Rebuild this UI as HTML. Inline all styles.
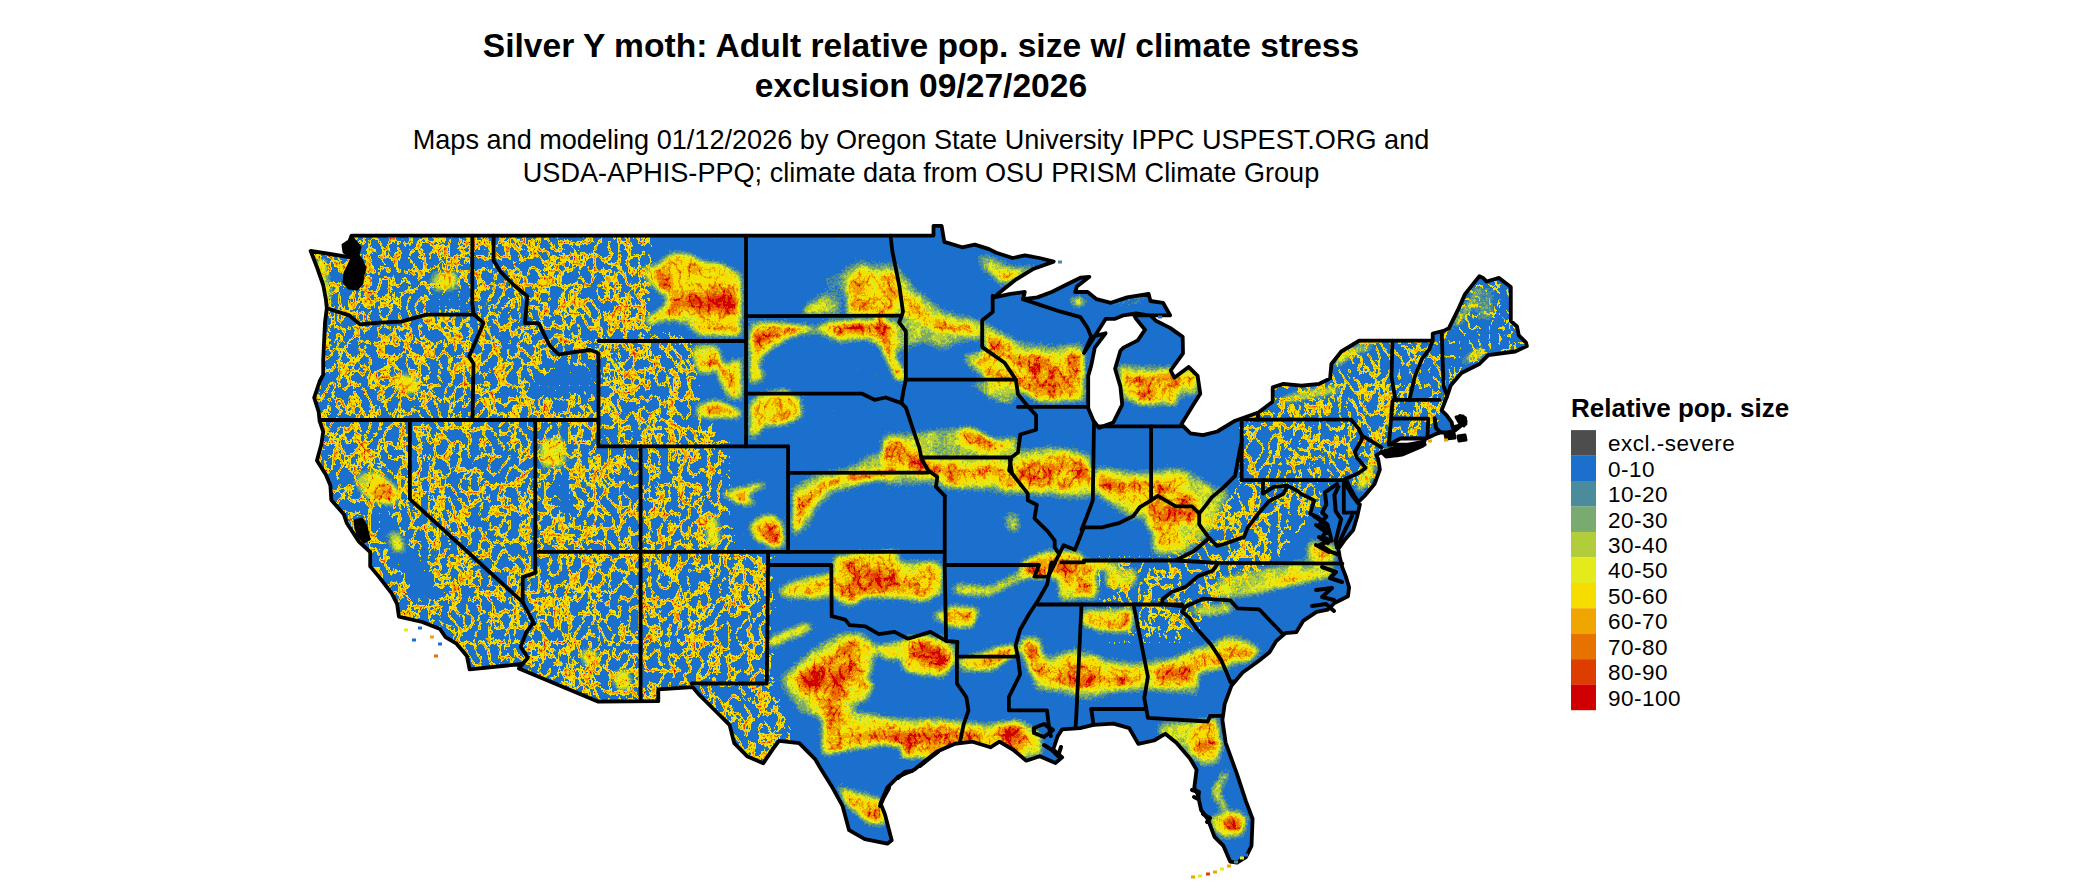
<!DOCTYPE html>
<html><head><meta charset="utf-8"><title>Silver Y moth</title><style>
html,body{margin:0;padding:0;background:#fff;width:2100px;height:892px;overflow:hidden;position:relative}
.t{position:absolute;font-family:"Liberation Sans",sans-serif;white-space:nowrap;color:#000;line-height:1}
.tt{font-size:33.6px;font-weight:bold;left:0;width:1842px;text-align:center}
.st{font-size:27.1px;left:0;width:1842px;text-align:center}
.lab{position:absolute;left:1608px;font-family:"Liberation Sans",sans-serif;font-size:22.5px;letter-spacing:0.5px;line-height:25px;white-space:nowrap}
svg{position:absolute;left:0;top:0}
</style></head><body>
<svg width="2100" height="892" viewBox="0 0 2100 892">
<defs><filter id="q" x="0" y="0" width="2100" height="892" filterUnits="userSpaceOnUse" color-interpolation-filters="sRGB">
 <feMorphology in="SourceGraphic" operator="erode" radius="3" result="er"/>
 <feGaussianBlur in="er" stdDeviation="3" result="f"/>
 <feColorMatrix in="f" type="matrix" values="1 0 0 0 0  1 0 0 0 0  1 0 0 0 0  0 0 0 0 1" result="fr"/>
 <feColorMatrix in="f" type="matrix" values="0 -1 0 0 1  0 -1 0 0 1  0 -1 0 0 1  0 0 0 0 1" result="amp"/>
 <feTurbulence type="turbulence" baseFrequency="0.1 0.07" numOctaves="3" seed="7" result="t"/>
 <feColorMatrix in="t" type="matrix" values="-1 0 0 0 1  -1 0 0 0 1  -1 0 0 0 1  0 0 0 0 1" result="rid"/>
 <feComponentTransfer in="rid" result="ridgL"><feFuncR type="linear" slope="2.9" intercept="-2.08"/><feFuncG type="linear" slope="2.9" intercept="-2.08"/><feFuncB type="linear" slope="2.9" intercept="-2.08"/></feComponentTransfer>
 <feTurbulence type="fractalNoise" baseFrequency="0.045" numOctaves="2" seed="23" result="t3"/>
 <feColorMatrix in="t3" type="matrix" values="1 0 0 0 0  1 0 0 0 0  1 0 0 0 0  0 0 0 0 1" result="n3"/>
 <feComposite in="fr" in2="n3" operator="arithmetic" k1="0.9" k2="0.5" k3="0" k4="0" result="frm"/>
 <feComposite in="frm" in2="ridgL" operator="arithmetic" k1="0.55" k2="1" k3="0" k4="0" result="fn"/>
 <feComposite in="rid" in2="amp" operator="arithmetic" k1="0" k2="1" k3="0.27" k4="-0.27" result="sh"/>
 <feComponentTransfer in="sh" result="ridgT"><feFuncR type="table" tableValues="0.000 0.000 0.000 0.000 0.000 0.000 0.000 0.000 0.000 0.000 0.000 0.000 0.000 0.000 0.000 0.000 0.000 0.000 0.000 0.000 0.000 0.000 0.000 0.000 0.000 0.000 0.000 0.000 0.000 0.000 0.000 0.000 0.000 0.000 0.000 0.000 0.000 0.000 0.450 0.466 0.481 0.497 0.512 0.537 0.571 0.606 0.640 0.702 0.764 0.840 0.920"/><feFuncG type="table" tableValues="0.000 0.000 0.000 0.000 0.000 0.000 0.000 0.000 0.000 0.000 0.000 0.000 0.000 0.000 0.000 0.000 0.000 0.000 0.000 0.000 0.000 0.000 0.000 0.000 0.000 0.000 0.000 0.000 0.000 0.000 0.000 0.000 0.000 0.000 0.000 0.000 0.000 0.000 0.450 0.466 0.481 0.497 0.512 0.537 0.571 0.606 0.640 0.702 0.764 0.840 0.920"/><feFuncB type="table" tableValues="0.000 0.000 0.000 0.000 0.000 0.000 0.000 0.000 0.000 0.000 0.000 0.000 0.000 0.000 0.000 0.000 0.000 0.000 0.000 0.000 0.000 0.000 0.000 0.000 0.000 0.000 0.000 0.000 0.000 0.000 0.000 0.000 0.000 0.000 0.000 0.000 0.000 0.000 0.450 0.466 0.481 0.497 0.512 0.537 0.571 0.606 0.640 0.702 0.764 0.840 0.920"/></feComponentTransfer>
 <feTurbulence type="fractalNoise" baseFrequency="0.42" numOctaves="2" seed="11" result="t2"/>
 <feColorMatrix in="t2" type="matrix" values="1 0 0 0 0  1 0 0 0 0  1 0 0 0 0  0 0 0 0 1" result="t2g"/>
 <feComposite in="fn" in2="t2g" operator="arithmetic" k1="0" k2="1" k3="0.24" k4="-0.12" result="fnj"/>
 <feBlend in="fnj" in2="ridgT" mode="lighten" result="v"/>
 <feComponentTransfer in="v">
  <feFuncR type="discrete" tableValues="0.106 0.290 0.475 0.698 0.890 0.965 0.937 0.910 0.871 0.816 0.816"/>
  <feFuncG type="discrete" tableValues="0.439 0.549 0.671 0.804 0.922 0.867 0.651 0.447 0.239 0 0"/>
  <feFuncB type="discrete" tableValues="0.804 0.608 0.439 0.235 0.106 0 0 0 0 0 0"/>
 </feComponentTransfer>
</filter><clipPath id="land"><path d="M310.6,250.9 L330.0,254.0 L349.2,257.2 L351.7,235.6 L933.5,235.6 L933.5,225.8 L941.6,225.8 L944.3,241.9 L962.2,247.3 L974.8,244.6 L989.1,249.1 L996.3,252.7 L1012.5,258.0 L1025.0,255.4 L1039.4,258.0 L1053.7,261.6 L1033.8,268.7 L1015.9,279.5 L998.0,293.8 L994.3,297.4 L1010.5,293.8 L1024.8,292.0 L1023.0,299.2 L1037.4,297.4 L1051.7,292.0 L1069.7,283.0 L1080.4,277.7 L1089.4,276.8 L1076.9,286.6 L1075.1,292.0 L1087.6,292.0 L1096.6,299.2 L1110.9,302.8 L1127.1,297.4 L1148.6,293.8 L1150.4,301.0 L1163.0,302.8 L1170.1,315.3 L1159.4,315.3 L1148.6,315.3 L1136.1,313.5 L1123.5,315.3 L1114.5,318.9 L1105.6,318.9 L1096.6,333.3 L1084.0,353.0 L1091.2,336.9 L1105.6,333.3 L1094.8,347.6 L1091.2,365.6 L1088.2,375.9 L1088.2,408.2 L1093.5,420.7 L1098.9,427.9 L1113.3,422.5 L1122.2,404.6 L1120.4,386.6 L1115.1,368.7 L1120.4,350.8 L1123.5,347.6 L1137.8,340.4 L1145.0,329.7 L1136.1,318.9 L1134.3,315.3 L1150.4,315.3 L1155.8,320.7 L1170.1,327.9 L1182.7,336.9 L1183.0,353.3 L1170.7,370.5 L1174.3,377.7 L1188.6,366.9 L1197.6,375.9 L1200.3,393.8 L1192.2,406.4 L1181.4,424.3 L1190.4,433.3 L1203.0,435.1 L1217.3,431.5 L1235.2,420.7 L1258.4,412.5 L1272.7,401.7 L1272.7,387.4 L1283.5,383.8 L1301.4,385.6 L1319.4,383.8 L1330.1,378.4 L1331.4,364.0 L1341.3,351.5 L1359.2,340.7 L1432.7,340.7 L1432.7,333.5 L1443.5,330.9 L1448.9,328.2 L1457.8,310.2 L1465.0,294.1 L1479.4,276.1 L1483.0,277.9 L1486.5,281.5 L1499.1,277.9 L1510.8,286.9 L1510.8,321.0 L1517.0,326.4 L1518.8,335.3 L1526.0,342.5 L1526.9,346.1 L1515.2,351.5 L1488.3,355.1 L1479.4,364.0 L1461.4,373.0 L1450.7,385.6 L1447.1,396.3 L1441.6,410.3 L1446.7,415.3 L1451.7,422.4 L1452.7,427.4 L1460.8,425.4 L1465.5,424.0 L1465.0,418.0 L1460.0,416.0 L1462.5,419.5 L1462.5,424.5 L1455.0,430.5 L1446.7,432.5 L1440.6,432.5 L1434.6,434.5 L1426.5,438.5 L1400.3,438.5 L1388.9,444.6 L1424.8,444.6 L1397.8,455.3 L1383.5,453.5 L1381.7,451.7 L1376.3,455.3 L1378.1,458.9 L1379.9,469.7 L1374.5,484.0 L1365.6,494.8 L1358.4,502.0 L1354.8,496.6 L1347.6,487.6 L1345.8,478.7 L1350.0,488.0 L1356.6,500.0 L1359.9,504.4 L1357.2,516.5 L1353.2,530.0 L1345.1,539.4 L1338.4,548.8 L1339.7,556.9 L1342.4,567.6 L1345.7,576.1 L1349.1,587.3 L1348.0,596.2 L1334.5,603.0 L1327.8,609.7 L1316.6,611.9 L1303.1,620.9 L1296.4,632.1 L1285.2,633.2 L1276.2,641.1 L1269.5,652.3 L1258.3,661.3 L1242.6,672.5 L1231.4,685.9 L1224.7,703.9 L1222.4,720.0 L1225.7,742.8 L1237.0,774.2 L1245.9,801.1 L1252.6,819.0 L1251.5,845.9 L1245.9,857.1 L1237.0,862.7 L1230.2,861.6 L1223.5,845.9 L1214.5,836.9 L1207.8,819.0 L1201.1,810.0 L1197.7,794.3 L1194.3,787.6 L1196.6,769.7 L1189.9,758.5 L1176.4,742.8 L1165.2,733.8 L1154.0,740.5 L1138.3,743.9 L1129.3,728.2 L1113.6,723.7 L1093.5,724.8 L1080.0,728.2 L1062.2,729.3 L1057.7,736.1 L1053.2,749.5 L1062.2,757.4 L1055.4,763.0 L1039.7,756.2 L1026.3,760.7 L1012.8,749.5 L999.4,741.7 L990.4,747.3 L972.5,741.7 L954.5,743.9 L936.6,751.7 L914.2,769.7 L898.5,776.4 L887.3,787.6 L880.5,803.3 L885.0,814.5 L891.7,840.3 L887.3,843.7 L864.8,839.2 L849.1,830.2 L842.4,805.6 L831.2,785.4 L820.0,767.4 L814.9,758.8 L799.2,743.1 L779.0,740.9 L772.3,749.9 L763.3,763.3 L747.6,756.6 L734.2,743.1 L729.7,725.2 L714.0,709.5 L698.3,693.8 L692.7,687.1 L658.3,689.3 L658.3,701.2 L597.8,701.6 L518.9,668.4 L522.5,664.0 L469.6,669.3 L466.9,655.9 L456.1,643.3 L445.4,637.0 L440.0,629.0 L422.2,622.0 L398.9,616.6 L397.1,604.0 L391.7,593.3 L379.2,577.1 L370.2,566.4 L370.2,552.0 L358.6,541.3 L346.9,523.3 L343.8,514.3 L331.3,499.9 L330.4,485.6 L325.9,474.8 L316.9,460.4 L321.4,444.3 L323.2,431.7 L319.6,421.0 L318.7,412.0 L314.2,397.7 L319.6,381.5 L323.2,374.6 L323.2,360.0 L325.0,322.6 L326.8,308.3 L325.9,299.3 L323.2,285.0 L316.9,267.0Z"/></clipPath></defs>
<path d="M310.6,250.9 L330.0,254.0 L349.2,257.2 L351.7,235.6 L933.5,235.6 L933.5,225.8 L941.6,225.8 L944.3,241.9 L962.2,247.3 L974.8,244.6 L989.1,249.1 L996.3,252.7 L1012.5,258.0 L1025.0,255.4 L1039.4,258.0 L1053.7,261.6 L1033.8,268.7 L1015.9,279.5 L998.0,293.8 L994.3,297.4 L1010.5,293.8 L1024.8,292.0 L1023.0,299.2 L1037.4,297.4 L1051.7,292.0 L1069.7,283.0 L1080.4,277.7 L1089.4,276.8 L1076.9,286.6 L1075.1,292.0 L1087.6,292.0 L1096.6,299.2 L1110.9,302.8 L1127.1,297.4 L1148.6,293.8 L1150.4,301.0 L1163.0,302.8 L1170.1,315.3 L1159.4,315.3 L1148.6,315.3 L1136.1,313.5 L1123.5,315.3 L1114.5,318.9 L1105.6,318.9 L1096.6,333.3 L1084.0,353.0 L1091.2,336.9 L1105.6,333.3 L1094.8,347.6 L1091.2,365.6 L1088.2,375.9 L1088.2,408.2 L1093.5,420.7 L1098.9,427.9 L1113.3,422.5 L1122.2,404.6 L1120.4,386.6 L1115.1,368.7 L1120.4,350.8 L1123.5,347.6 L1137.8,340.4 L1145.0,329.7 L1136.1,318.9 L1134.3,315.3 L1150.4,315.3 L1155.8,320.7 L1170.1,327.9 L1182.7,336.9 L1183.0,353.3 L1170.7,370.5 L1174.3,377.7 L1188.6,366.9 L1197.6,375.9 L1200.3,393.8 L1192.2,406.4 L1181.4,424.3 L1190.4,433.3 L1203.0,435.1 L1217.3,431.5 L1235.2,420.7 L1258.4,412.5 L1272.7,401.7 L1272.7,387.4 L1283.5,383.8 L1301.4,385.6 L1319.4,383.8 L1330.1,378.4 L1331.4,364.0 L1341.3,351.5 L1359.2,340.7 L1432.7,340.7 L1432.7,333.5 L1443.5,330.9 L1448.9,328.2 L1457.8,310.2 L1465.0,294.1 L1479.4,276.1 L1483.0,277.9 L1486.5,281.5 L1499.1,277.9 L1510.8,286.9 L1510.8,321.0 L1517.0,326.4 L1518.8,335.3 L1526.0,342.5 L1526.9,346.1 L1515.2,351.5 L1488.3,355.1 L1479.4,364.0 L1461.4,373.0 L1450.7,385.6 L1447.1,396.3 L1441.6,410.3 L1446.7,415.3 L1451.7,422.4 L1452.7,427.4 L1460.8,425.4 L1465.5,424.0 L1465.0,418.0 L1460.0,416.0 L1462.5,419.5 L1462.5,424.5 L1455.0,430.5 L1446.7,432.5 L1440.6,432.5 L1434.6,434.5 L1426.5,438.5 L1400.3,438.5 L1388.9,444.6 L1424.8,444.6 L1397.8,455.3 L1383.5,453.5 L1381.7,451.7 L1376.3,455.3 L1378.1,458.9 L1379.9,469.7 L1374.5,484.0 L1365.6,494.8 L1358.4,502.0 L1354.8,496.6 L1347.6,487.6 L1345.8,478.7 L1350.0,488.0 L1356.6,500.0 L1359.9,504.4 L1357.2,516.5 L1353.2,530.0 L1345.1,539.4 L1338.4,548.8 L1339.7,556.9 L1342.4,567.6 L1345.7,576.1 L1349.1,587.3 L1348.0,596.2 L1334.5,603.0 L1327.8,609.7 L1316.6,611.9 L1303.1,620.9 L1296.4,632.1 L1285.2,633.2 L1276.2,641.1 L1269.5,652.3 L1258.3,661.3 L1242.6,672.5 L1231.4,685.9 L1224.7,703.9 L1222.4,720.0 L1225.7,742.8 L1237.0,774.2 L1245.9,801.1 L1252.6,819.0 L1251.5,845.9 L1245.9,857.1 L1237.0,862.7 L1230.2,861.6 L1223.5,845.9 L1214.5,836.9 L1207.8,819.0 L1201.1,810.0 L1197.7,794.3 L1194.3,787.6 L1196.6,769.7 L1189.9,758.5 L1176.4,742.8 L1165.2,733.8 L1154.0,740.5 L1138.3,743.9 L1129.3,728.2 L1113.6,723.7 L1093.5,724.8 L1080.0,728.2 L1062.2,729.3 L1057.7,736.1 L1053.2,749.5 L1062.2,757.4 L1055.4,763.0 L1039.7,756.2 L1026.3,760.7 L1012.8,749.5 L999.4,741.7 L990.4,747.3 L972.5,741.7 L954.5,743.9 L936.6,751.7 L914.2,769.7 L898.5,776.4 L887.3,787.6 L880.5,803.3 L885.0,814.5 L891.7,840.3 L887.3,843.7 L864.8,839.2 L849.1,830.2 L842.4,805.6 L831.2,785.4 L820.0,767.4 L814.9,758.8 L799.2,743.1 L779.0,740.9 L772.3,749.9 L763.3,763.3 L747.6,756.6 L734.2,743.1 L729.7,725.2 L714.0,709.5 L698.3,693.8 L692.7,687.1 L658.3,689.3 L658.3,701.2 L597.8,701.6 L518.9,668.4 L522.5,664.0 L469.6,669.3 L466.9,655.9 L456.1,643.3 L445.4,637.0 L440.0,629.0 L422.2,622.0 L398.9,616.6 L397.1,604.0 L391.7,593.3 L379.2,577.1 L370.2,566.4 L370.2,552.0 L358.6,541.3 L346.9,523.3 L343.8,514.3 L331.3,499.9 L330.4,485.6 L325.9,474.8 L316.9,460.4 L321.4,444.3 L323.2,431.7 L319.6,421.0 L318.7,412.0 L314.2,397.7 L319.6,381.5 L323.2,374.6 L323.2,360.0 L325.0,322.6 L326.8,308.3 L325.9,299.3 L323.2,285.0 L316.9,267.0Z" fill="#1b70cd"/>
<g clip-path="url(#land)">
<g filter="url(#q)"><rect x="0" y="0" width="2100" height="892" fill="rgb(0,255,0)"/>
<polygon points="300.0,225.0 648.0,225.0 648.0,330.0 690.0,345.0 700.0,420.0 725.0,446.0 728.0,551.0 770.0,560.0 770.0,690.0 790.0,740.0 760.0,780.0 700.0,730.0 650.0,705.0 480.0,680.0 300.0,600.0" fill="rgb(0,0,0)" style="mix-blend-mode:darken"/>
<polygon points="1243.0,420.0 1272.0,400.0 1275.0,385.0 1330.0,378.0 1345.0,345.0 1360.0,340.0 1432.0,338.0 1445.0,385.0 1440.0,415.0 1385.0,450.0 1375.0,490.0 1345.0,480.0 1243.0,480.0" fill="rgb(0,25,0)" style="mix-blend-mode:darken"/>
<polygon points="1432.0,338.0 1460.0,300.0 1480.0,275.0 1510.0,285.0 1525.0,345.0 1450.0,385.0" fill="rgb(0,102,0)" style="mix-blend-mode:darken"/>
<polygon points="1140.0,620.0 1160.0,570.0 1200.0,530.0 1240.0,490.0 1300.0,478.0 1320.0,500.0 1270.0,560.0 1220.0,600.0 1180.0,640.0" fill="rgb(0,31,0)" style="mix-blend-mode:darken"/>
<polygon points="1110.0,600.0 1180.0,600.0 1180.0,640.0 1110.0,640.0" fill="rgb(0,102,0)" style="mix-blend-mode:darken"/>
<polygon points="1100.0,562.0 1220.0,560.0 1215.0,600.0 1100.0,602.0" fill="rgb(0,38,0)" style="mix-blend-mode:darken"/>
<polygon points="372.0,505.0 390.0,505.0 410.0,540.0 435.0,570.0 440.0,600.0 420.0,605.0 395.0,570.0 375.0,535.0" fill="rgb(0,255,0)" style="mix-blend-mode:lighten"/>
<polygon points="520.0,380.0 560.0,360.0 600.0,365.0 600.0,395.0 560.0,400.0 525.0,400.0" fill="rgb(0,204,0)" style="mix-blend-mode:lighten"/>
<polygon points="553.0,472.0 568.0,468.0 576.0,490.0 574.0,520.0 556.0,520.0 550.0,495.0" fill="rgb(0,217,0)" style="mix-blend-mode:lighten"/>
<polygon points="425.0,287.0 470.0,287.0 470.0,314.0 425.0,314.0" fill="rgb(0,204,0)" style="mix-blend-mode:lighten"/>
<polygon points="815.0,275.0 850.0,268.0 895.0,262.0 905.0,300.0 830.0,300.0" fill="rgb(31,0,0)" style="mix-blend-mode:lighten"/>
<polygon points="1471.3,284.7 1496.0,287.1 1496.0,321.7 1473.8,321.7" fill="rgb(51,0,0)" style="mix-blend-mode:lighten"/>
<polygon points="1174.7,440.4 1181.4,440.4 1181.4,449.3 1174.7,449.3" fill="rgb(51,0,0)" style="mix-blend-mode:lighten"/>
<polygon points="842.2,264.8 855.6,258.1 900.0,260.4 900.0,287.3 846.6,294.0 833.2,287.3" fill="rgb(56,0,0)" style="mix-blend-mode:lighten"/>
<polygon points="900.0,264.8 917.9,287.3 944.8,307.4 967.3,314.2 985.2,318.7 985.2,341.1 958.3,345.6 944.8,354.5 922.4,345.6 900.0,354.5" fill="rgb(76,0,0)" style="mix-blend-mode:lighten"/>
<polygon points="983.0,318.7 1000.9,327.6 1025.6,341.1 1057.0,343.3 1086.1,341.1 1086.1,399.4 1057.0,399.4 1034.5,390.4 1016.6,399.4 994.2,390.4 962.8,365.7 960.5,352.3 980.7,347.8" fill="rgb(76,0,0)" style="mix-blend-mode:lighten"/>
<polygon points="974.0,251.4 989.7,253.6 1016.6,264.8 1043.5,260.4 1034.5,273.8 1007.6,287.3 994.2,285.0 978.5,269.3" fill="rgb(76,0,0)" style="mix-blend-mode:lighten"/>
<polygon points="1115.2,359.0 1135.4,363.5 1157.8,363.5 1200.0,363.5 1200.0,399.4 1169.1,397.1 1146.6,397.1 1117.5,390.4" fill="rgb(76,0,0)" style="mix-blend-mode:lighten"/>
<polygon points="962.8,381.4 994.2,381.4 1016.6,399.4 1012.1,410.6 985.2,399.4" fill="rgb(76,0,0)" style="mix-blend-mode:lighten"/>
<polygon points="790.6,485.2 813.0,471.7 846.6,465.0 869.1,451.6 900.0,444.8 900.0,480.7 869.1,485.2 837.7,494.2 822.0,507.6 810.8,530.0 797.3,539.0 790.6,539.0" fill="rgb(76,0,0)" style="mix-blend-mode:lighten"/>
<polygon points="880.0,431.6 906.9,431.6 958.5,424.8 987.6,433.8 1023.5,447.3 1054.9,442.8 1093.0,451.7 1093.0,501.1 1059.4,501.1 1025.7,496.6 1005.6,496.6 974.2,492.1 947.3,492.1 924.8,485.4 897.9,487.6 880.0,485.4" fill="rgb(76,0,0)" style="mix-blend-mode:lighten"/>
<polygon points="1093.0,465.2 1115.4,465.2 1137.8,469.7 1180.0,465.2 1180.0,525.7 1149.1,523.5 1126.6,519.0 1104.2,505.6 1093.0,496.6" fill="rgb(76,0,0)" style="mix-blend-mode:lighten"/>
<polygon points="1157.8,721.4 1200.0,717.0 1200.0,760.0 1169.1,760.0" fill="rgb(76,0,0)" style="mix-blend-mode:lighten"/>
<polygon points="1147.3,729.3 1178.7,724.8 1205.6,724.8 1192.1,742.8 1165.2,738.3" fill="rgb(76,0,0)" style="mix-blend-mode:lighten"/>
<polygon points="965.2,380.0 1019.0,380.0 1019.0,402.4 987.6,397.9" fill="rgb(89,0,0)" style="mix-blend-mode:lighten"/>
<polygon points="1001.1,512.3 1019.0,510.0 1023.5,532.5 1005.6,534.7" fill="rgb(89,0,0)" style="mix-blend-mode:lighten"/>
<polygon points="1150.0,471.7 1163.5,467.3 1190.4,467.3 1217.3,485.2 1235.2,489.7 1217.3,525.6 1206.1,543.5 1183.6,557.0 1150.0,557.0" fill="rgb(89,0,0)" style="mix-blend-mode:lighten"/>
<polygon points="1217.3,574.9 1262.1,565.9 1307.0,557.0 1336.1,557.0 1336.1,579.4 1284.5,590.6 1239.7,600.0 1206.1,600.0" fill="rgb(89,0,0)" style="mix-blend-mode:lighten"/>
<polygon points="1307.0,534.5 1320.4,539.0 1336.1,557.0 1320.4,561.4 1307.0,552.5" fill="rgb(89,0,0)" style="mix-blend-mode:lighten"/>
<polygon points="1016.6,634.0 1041.3,634.0 1048.0,654.2 1074.9,645.2 1097.3,651.9 1124.2,665.4 1146.6,663.1 1200.0,649.7 1200.0,699.0 1169.1,694.5 1146.6,692.3 1113.0,694.5 1090.6,703.5 1057.0,694.5 1034.5,692.3 1021.1,663.1" fill="rgb(89,0,0)" style="mix-blend-mode:lighten"/>
<polygon points="1100.0,656.6 1133.6,661.1 1167.3,656.6 1200.9,643.1 1225.6,634.2 1243.5,634.2 1265.9,647.6 1257.0,661.1 1234.5,670.0 1207.6,674.5 1178.5,685.7 1149.3,692.5 1100.0,692.5" fill="rgb(89,0,0)" style="mix-blend-mode:lighten"/>
<polygon points="1221.1,591.6 1257.0,578.1 1290.6,566.9 1324.2,564.7 1333.2,575.9 1301.8,584.8 1268.2,593.8 1234.5,598.3" fill="rgb(89,0,0)" style="mix-blend-mode:lighten"/>
<polygon points="1156.1,723.9 1221.1,714.9 1221.1,740.0 1156.1,740.0" fill="rgb(89,0,0)" style="mix-blend-mode:lighten"/>
<polygon points="775.6,676.6 807.0,649.7 833.9,631.7 863.0,629.5 880.9,645.2 874.2,672.1 865.2,699.0 847.3,725.9 818.2,721.4 795.7,712.5 784.5,694.5" fill="rgb(89,0,0)" style="mix-blend-mode:lighten"/>
<polygon points="1101.8,298.5 1146.6,296.2 1146.6,305.2 1101.8,305.2" fill="rgb(102,0,0)" style="mix-blend-mode:lighten"/>
<polygon points="900.0,717.0 944.8,717.0 989.7,721.4 1023.3,717.0 1043.5,730.4 1043.5,760.0 900.0,760.0" fill="rgb(102,0,0)" style="mix-blend-mode:lighten"/>
<polygon points="802.0,304.0 825.0,290.0 842.0,298.0 842.0,317.0 802.0,317.0" fill="rgb(102,0,0)" style="mix-blend-mode:lighten"/>
<polygon points="1456.5,358.7 1476.2,346.3 1491.0,343.9 1486.1,358.7 1461.4,368.5" fill="rgb(107,0,0)" style="mix-blend-mode:lighten"/>
<polygon points="1102.0,568.0 1140.0,566.0 1138.0,590.0 1104.0,590.0" fill="rgb(107,0,0)" style="mix-blend-mode:lighten"/>
<polyline points="956.1,589.1 989.7,591.4 1012.1,580.2 1030.0,571.2" fill="none" stroke="rgb(115,0,0)" stroke-width="15.0" stroke-linejoin="round" stroke-linecap="round" style="mix-blend-mode:lighten"/>
<polyline points="784.5,591.4 807.0,582.4 829.4,580.2" fill="none" stroke="rgb(115,0,0)" stroke-width="17.2" stroke-linejoin="round" stroke-linecap="round" style="mix-blend-mode:lighten"/>
<polyline points="1225.7,774.2 1214.5,792.1 1223.5,805.6" fill="none" stroke="rgb(115,0,0)" stroke-width="13.8" stroke-linejoin="round" stroke-linecap="round" style="mix-blend-mode:lighten"/>
<polygon points="638.1,266.0 653.8,262.6 669.5,250.3 689.7,251.4 705.4,259.2 725.6,261.5 743.5,272.7 743.5,337.7 725.6,337.7 705.4,338.8 694.2,335.5 683.0,325.4 667.3,323.1 658.3,325.4 647.1,323.1 653.8,309.7 665.0,300.7 656.1,294.0 644.8,282.8 638.1,273.8" fill="rgb(140,0,0)" style="mix-blend-mode:lighten"/>
<polygon points="691.9,343.3 718.8,343.3 725.6,359.0 712.1,377.0 696.4,374.7 689.7,359.0" fill="rgb(140,0,0)" style="mix-blend-mode:lighten"/>
<polygon points="716.6,363.5 743.5,354.5 743.5,403.9 725.6,399.4 716.6,381.4" fill="rgb(140,0,0)" style="mix-blend-mode:lighten"/>
<polygon points="694.2,401.6 716.6,397.1 743.5,408.3 743.5,420.0 694.2,420.0" fill="rgb(140,0,0)" style="mix-blend-mode:lighten"/>
<polygon points="846.6,276.1 860.1,262.6 880.3,269.3 900.0,267.1 900.0,314.2 869.1,314.2 851.1,305.2 842.2,294.0" fill="rgb(140,0,0)" style="mix-blend-mode:lighten"/>
<polygon points="748.0,319.8 770.4,319.8 790.6,320.9 815.2,325.4 824.2,318.7 846.6,318.7 869.1,318.7 900.0,318.7 900.0,354.5 882.5,350.0 864.6,341.1 837.7,345.6 824.2,338.8 810.8,332.1 790.6,341.1 774.9,350.0 761.4,363.5 770.4,377.0 757.0,385.9 748.0,385.9" fill="rgb(140,0,0)" style="mix-blend-mode:lighten"/>
<polygon points="748.0,399.4 761.4,390.4 786.1,385.9 801.8,394.9 806.3,412.8 801.8,420.0 748.0,420.0" fill="rgb(140,0,0)" style="mix-blend-mode:lighten"/>
<polygon points="900.0,278.3 913.5,294.0 931.4,311.9 956.1,318.7 980.7,322.0 983.0,336.6 956.1,336.6 929.1,332.1 913.5,320.9 900.0,314.2" fill="rgb(140,0,0)" style="mix-blend-mode:lighten"/>
<polygon points="985.2,325.4 1007.6,336.6 1030.0,350.0 1057.0,350.0 1086.1,347.8 1086.1,394.9 1061.4,390.4 1034.5,381.4 1016.6,390.4 996.4,383.7 971.7,368.0 967.3,356.8 985.2,354.5" fill="rgb(140,0,0)" style="mix-blend-mode:lighten"/>
<polygon points="985.2,260.4 1012.1,269.3 1039.0,262.6 1025.6,276.1 1003.1,285.0 989.7,276.1" fill="rgb(140,0,0)" style="mix-blend-mode:lighten"/>
<polygon points="1068.2,296.2 1083.9,294.0 1092.8,303.0 1079.4,309.7 1068.2,305.2" fill="rgb(140,0,0)" style="mix-blend-mode:lighten"/>
<polygon points="1117.5,365.7 1137.7,370.2 1169.1,368.0 1200.0,368.0 1200.0,394.9 1169.1,390.4 1142.2,388.2 1119.7,385.9" fill="rgb(140,0,0)" style="mix-blend-mode:lighten"/>
<polygon points="1463.9,301.9 1478.7,278.5 1486.1,287.1 1473.8,309.3 1461.4,326.6 1449.1,336.5 1444.2,331.5" fill="rgb(140,0,0)" style="mix-blend-mode:lighten"/>
<polygon points="1329.5,366.1 1335.7,351.3 1357.8,341.4 1377.6,338.9 1372.6,351.3 1352.9,358.7 1340.6,368.5" fill="rgb(140,0,0)" style="mix-blend-mode:lighten"/>
<polygon points="1274.0,398.1 1303.6,388.3 1338.1,383.3 1348.0,393.2 1311.0,400.6 1278.9,408.0" fill="rgb(140,0,0)" style="mix-blend-mode:lighten"/>
<polyline points="734.5,498.7 752.5,503.1" fill="none" stroke="rgb(140,0,0)" stroke-width="11.6" stroke-linejoin="round" stroke-linecap="round" style="mix-blend-mode:lighten"/>
<polygon points="743.5,525.6 757.0,514.3 774.9,512.1 786.1,521.1 786.1,550.2 770.4,550.2 752.5,541.3" fill="rgb(140,0,0)" style="mix-blend-mode:lighten"/>
<polygon points="748.0,400.0 801.8,400.0 806.3,417.9 788.3,426.9 765.9,429.1 752.5,444.8 748.0,444.8" fill="rgb(140,0,0)" style="mix-blend-mode:lighten"/>
<polygon points="790.6,494.2 808.5,478.5 846.6,471.7 900.0,465.0 900.0,477.4 846.6,483.0 824.2,494.2 813.0,512.1 801.8,530.0 790.6,534.5" fill="rgb(140,0,0)" style="mix-blend-mode:lighten"/>
<polygon points="779.4,583.9 801.8,577.1 830.9,570.4 830.9,600.0 779.4,600.0" fill="rgb(140,0,0)" style="mix-blend-mode:lighten"/>
<polygon points="830.9,554.7 857.8,550.2 900.0,548.0 900.0,600.0 830.9,600.0" fill="rgb(140,0,0)" style="mix-blend-mode:lighten"/>
<polygon points="880.0,438.3 906.9,436.1 924.8,454.0 958.5,458.5 1003.3,460.7 1037.0,454.0 1059.4,447.3 1093.0,458.5 1093.0,492.1 1059.4,496.6 1037.0,492.1 1014.5,492.1 992.1,487.6 951.7,487.6 929.3,478.7 902.4,480.9 880.0,474.2" fill="rgb(140,0,0)" style="mix-blend-mode:lighten"/>
<polygon points="956.2,427.1 974.2,424.8 996.6,438.3 1019.0,433.8 1019.0,451.7 987.6,454.0 960.7,451.7" fill="rgb(140,0,0)" style="mix-blend-mode:lighten"/>
<polygon points="1095.2,471.9 1115.4,474.2 1149.1,478.7 1180.0,474.2 1180.0,519.0 1149.1,514.5 1126.6,512.3 1106.5,501.1 1095.2,492.1" fill="rgb(140,0,0)" style="mix-blend-mode:lighten"/>
<polygon points="1144.6,505.6 1180.0,505.6 1180.0,550.4 1160.3,550.4 1144.6,528.0" fill="rgb(140,0,0)" style="mix-blend-mode:lighten"/>
<polygon points="1117.7,380.0 1180.0,380.0 1180.0,406.9 1137.8,406.9 1117.7,397.9" fill="rgb(140,0,0)" style="mix-blend-mode:lighten"/>
<polygon points="1019.0,380.0 1086.3,380.0 1086.3,402.4 1037.0,404.7 1019.0,393.5" fill="rgb(140,0,0)" style="mix-blend-mode:lighten"/>
<polygon points="1019.0,559.4 1050.4,545.9 1081.8,550.4 1093.0,563.9 1093.0,580.0 1019.0,580.0" fill="rgb(140,0,0)" style="mix-blend-mode:lighten"/>
<polygon points="1369.7,451.6 1378.7,458.3 1374.2,480.7 1360.8,496.4 1351.8,489.7 1363.0,467.3" fill="rgb(140,0,0)" style="mix-blend-mode:lighten"/>
<polygon points="900.0,636.2 926.9,631.7 956.1,643.0 958.3,663.1 944.8,681.1 917.9,676.6 900.0,672.1" fill="rgb(140,0,0)" style="mix-blend-mode:lighten"/>
<polygon points="958.3,656.4 994.2,645.2 1016.6,640.7 1021.1,654.2 996.4,672.1 967.3,674.3 958.3,672.1" fill="rgb(140,0,0)" style="mix-blend-mode:lighten"/>
<polygon points="1021.1,638.5 1039.0,638.5 1043.5,658.7 1072.6,651.9 1101.8,658.7 1124.2,669.9 1146.6,667.6 1200.0,656.4 1200.0,690.0 1157.8,687.8 1124.2,690.0 1097.3,694.5 1061.4,690.0 1034.5,685.6 1025.6,663.1" fill="rgb(140,0,0)" style="mix-blend-mode:lighten"/>
<polygon points="926.9,613.8 951.6,602.6 985.2,607.1 974.0,629.5 951.6,629.5 931.4,620.5" fill="rgb(140,0,0)" style="mix-blend-mode:lighten"/>
<polygon points="900.0,560.0 944.8,560.0 944.8,595.9 922.4,604.8 900.0,600.4" fill="rgb(140,0,0)" style="mix-blend-mode:lighten"/>
<polygon points="1079.4,607.1 1135.4,607.1 1135.4,634.0 1101.8,634.0 1079.4,627.3" fill="rgb(140,0,0)" style="mix-blend-mode:lighten"/>
<polygon points="1100.0,661.1 1133.6,665.6 1167.3,661.1 1203.1,647.6 1230.0,638.7 1245.7,643.1 1263.7,652.1 1252.5,661.1 1230.0,665.6 1203.1,672.3 1174.0,681.3 1144.8,688.0 1100.0,688.0" fill="rgb(140,0,0)" style="mix-blend-mode:lighten"/>
<polygon points="1183.0,607.3 1207.6,602.8 1234.5,600.5 1234.5,614.0 1207.6,618.5 1185.2,614.0" fill="rgb(140,0,0)" style="mix-blend-mode:lighten"/>
<polygon points="1194.2,719.4 1221.1,717.1 1216.6,740.0 1194.2,740.0" fill="rgb(140,0,0)" style="mix-blend-mode:lighten"/>
<polygon points="1301.8,544.5 1337.7,540.0 1337.7,560.2 1306.3,557.9" fill="rgb(140,0,0)" style="mix-blend-mode:lighten"/>
<polygon points="833.9,560.0 941.5,560.0 946.0,582.4 919.1,582.4 896.6,600.4 874.2,595.9 851.8,609.3 836.1,604.8" fill="rgb(140,0,0)" style="mix-blend-mode:lighten"/>
<polygon points="789.0,676.6 811.4,654.2 836.1,636.2 860.8,634.0 876.5,647.4 869.7,672.1 858.5,696.8 842.8,717.0 820.4,714.7 802.5,703.5 791.3,690.0" fill="rgb(140,0,0)" style="mix-blend-mode:lighten"/>
<polygon points="874.2,645.2 907.8,636.2 950.0,634.0 950.0,665.4 907.8,663.1 880.9,660.9" fill="rgb(140,0,0)" style="mix-blend-mode:lighten"/>
<polygon points="824.9,725.9 851.8,721.4 885.4,723.7 919.1,717.0 950.0,721.4 950.0,748.3 907.8,748.3 863.0,746.1 829.4,739.4" fill="rgb(140,0,0)" style="mix-blend-mode:lighten"/>
<polygon points="820.0,706.9 864.8,711.4 909.7,718.1 936.6,715.9 963.5,724.8 963.5,738.3 927.6,751.7 887.3,747.3 842.4,754.0 820.0,758.5" fill="rgb(140,0,0)" style="mix-blend-mode:lighten"/>
<polygon points="959.0,722.6 988.2,724.8 1017.3,718.1 1035.2,729.3 1035.2,747.3 1021.8,754.0 990.4,747.3 963.5,740.5" fill="rgb(140,0,0)" style="mix-blend-mode:lighten"/>
<polygon points="829.0,778.7 849.1,787.6 882.8,796.6 891.7,825.7 869.3,828.0 842.4,805.6" fill="rgb(140,0,0)" style="mix-blend-mode:lighten"/>
<polygon points="820.0,680.0 878.3,680.0 869.3,702.4 842.4,709.1 820.0,704.7" fill="rgb(140,0,0)" style="mix-blend-mode:lighten"/>
<polygon points="1180.9,731.6 1205.6,722.6 1219.0,720.4 1225.7,747.3 1219.0,765.2 1201.1,769.7 1187.6,754.0" fill="rgb(140,0,0)" style="mix-blend-mode:lighten"/>
<polygon points="1207.8,814.5 1237.0,807.8 1250.4,814.5 1245.9,837.0 1223.5,841.4 1210.0,832.5" fill="rgb(140,0,0)" style="mix-blend-mode:lighten"/>
<polygon points="845.0,287.0 870.0,280.0 895.0,276.0 905.0,317.0 845.0,317.0" fill="rgb(140,0,0)" style="mix-blend-mode:lighten"/>
<polygon points="428.0,272.0 458.0,268.0 462.0,290.0 432.0,294.0" fill="rgb(140,0,0)" style="mix-blend-mode:lighten"/>
<polygon points="314.0,255.0 328.0,258.0 333.0,290.0 330.0,315.0 318.0,312.0 313.0,280.0" fill="rgb(140,0,0)" style="mix-blend-mode:lighten"/>
<polygon points="385.0,375.0 405.0,370.0 425.0,380.0 420.0,395.0 395.0,395.0" fill="rgb(140,0,0)" style="mix-blend-mode:lighten"/>
<polygon points="352.0,472.0 380.0,468.0 404.0,490.0 398.0,508.0 372.0,505.0 356.0,492.0" fill="rgb(140,0,0)" style="mix-blend-mode:lighten"/>
<polygon points="384.0,531.0 400.0,528.0 410.0,552.0 392.0,556.0" fill="rgb(140,0,0)" style="mix-blend-mode:lighten"/>
<polygon points="575.0,650.0 595.0,645.0 605.0,665.0 585.0,672.0" fill="rgb(140,0,0)" style="mix-blend-mode:lighten"/>
<polygon points="610.0,670.0 630.0,665.0 636.0,690.0 615.0,695.0" fill="rgb(140,0,0)" style="mix-blend-mode:lighten"/>
<polygon points="537.0,438.0 566.0,436.0 570.0,468.0 540.0,470.0" fill="rgb(140,0,0)" style="mix-blend-mode:lighten"/>
<polygon points="703.0,514.0 720.0,512.0 722.0,548.0 705.0,548.0" fill="rgb(140,0,0)" style="mix-blend-mode:lighten"/>
<polygon points="1053.0,565.0 1098.0,563.0 1100.0,600.0 1058.0,602.0" fill="rgb(140,0,0)" style="mix-blend-mode:lighten"/>
<polygon points="1070.0,560.0 1120.0,558.0 1120.0,572.0 1070.0,572.0" fill="rgb(140,0,0)" style="mix-blend-mode:lighten"/>
<polyline points="725.6,494.2 743.5,491.9 761.4,485.2" fill="none" stroke="rgb(153,0,0)" stroke-width="12.7" stroke-linejoin="round" stroke-linecap="round" style="mix-blend-mode:lighten"/>
<polyline points="771.1,643.0 789.0,634.0 807.0,627.3" fill="none" stroke="rgb(153,0,0)" stroke-width="15.0" stroke-linejoin="round" stroke-linecap="round" style="mix-blend-mode:lighten"/>
<polyline points="880.0,320.0 888.0,352.0 900.0,376.0" fill="none" stroke="rgb(153,0,0)" stroke-width="16.0" stroke-linejoin="round" stroke-linecap="round" style="mix-blend-mode:lighten"/>
<polyline points="649.3,320.9 674.0,305.2 696.4,298.5" fill="none" stroke="rgb(166,0,0)" stroke-width="15.0" stroke-linejoin="round" stroke-linecap="round" style="mix-blend-mode:lighten"/>
<polygon points="644.8,268.2 665.0,266.0 676.2,273.8 674.0,287.3 662.8,294.0 653.8,287.3" fill="rgb(171,0,0)" style="mix-blend-mode:lighten"/>
<polygon points="694.2,294.0 716.6,285.0 734.5,287.3 741.3,300.7 739.0,332.1 721.1,336.6 700.9,325.4 696.4,309.7" fill="rgb(171,0,0)" style="mix-blend-mode:lighten"/>
<polygon points="860.1,305.2 880.3,291.7 900.0,285.0 900.0,314.2 864.6,314.2" fill="rgb(171,0,0)" style="mix-blend-mode:lighten"/>
<polygon points="748.0,327.6 770.4,325.4 801.8,325.4 815.2,327.6 815.2,334.3 792.8,336.6 770.4,341.1 752.5,350.0 748.0,350.0" fill="rgb(171,0,0)" style="mix-blend-mode:lighten"/>
<polygon points="989.7,332.1 1007.6,345.6 1030.0,356.8 1052.5,359.0 1070.4,354.5 1086.1,354.5 1086.1,377.0 1070.4,383.7 1048.0,381.4 1025.6,377.0 1012.1,365.7 994.2,354.5" fill="rgb(171,0,0)" style="mix-blend-mode:lighten"/>
<polygon points="976.2,363.5 994.2,365.7 1007.6,377.0 1003.1,385.9 985.2,381.4" fill="rgb(171,0,0)" style="mix-blend-mode:lighten"/>
<polygon points="1119.7,374.7 1142.2,377.0 1164.6,372.5 1200.0,372.5 1200.0,390.4 1178.0,383.7 1146.6,383.7 1122.0,381.4" fill="rgb(171,0,0)" style="mix-blend-mode:lighten"/>
<polygon points="757.0,525.6 774.9,521.1 786.1,530.0 783.9,548.0 765.9,543.5" fill="rgb(171,0,0)" style="mix-blend-mode:lighten"/>
<polygon points="791.7,514.3 806.3,494.2 822.0,478.5 846.6,471.7 869.1,468.4 900.0,465.0 900.0,478.5 846.6,485.2 826.5,491.9 813.0,509.9 800.7,530.0 791.7,532.3" fill="rgb(171,0,0)" style="mix-blend-mode:lighten"/>
<polygon points="880.0,445.0 906.9,440.5 924.8,460.7 947.3,465.2 976.4,467.4 1005.6,467.4 1037.0,463.0 1059.4,458.5 1093.0,467.4 1093.0,483.1 1068.3,476.4 1037.0,474.2 1005.6,478.7 974.2,478.7 938.3,476.4 915.9,469.7 893.5,465.2 880.0,463.0" fill="rgb(171,0,0)" style="mix-blend-mode:lighten"/>
<polygon points="1097.5,478.7 1117.7,478.7 1137.8,483.1 1153.5,487.6 1180.0,485.4 1180.0,505.6 1153.5,505.6 1131.1,505.6 1113.2,496.6 1099.7,489.9" fill="rgb(171,0,0)" style="mix-blend-mode:lighten"/>
<polygon points="1158.0,514.5 1180.0,514.5 1180.0,541.4 1162.5,537.0" fill="rgb(171,0,0)" style="mix-blend-mode:lighten"/>
<polygon points="1025.6,645.2 1039.0,645.2 1043.5,665.4 1070.4,665.4 1090.6,665.4 1115.2,672.1 1146.6,672.1 1200.0,665.4 1200.0,681.1 1157.8,681.1 1119.7,685.6 1090.6,690.0 1057.0,683.3 1034.5,676.6 1027.8,660.9" fill="rgb(171,0,0)" style="mix-blend-mode:lighten"/>
<polygon points="900.0,725.9 940.4,725.9 978.5,730.4 1016.6,725.9 1034.5,743.9 1025.6,760.0 900.0,760.0" fill="rgb(171,0,0)" style="mix-blend-mode:lighten"/>
<polygon points="1100.0,670.0 1133.6,672.3 1167.3,667.8 1203.1,654.3 1232.3,645.4 1257.0,649.9 1245.7,658.8 1216.6,665.6 1189.7,674.5 1156.1,681.3 1100.0,683.5" fill="rgb(171,0,0)" style="mix-blend-mode:lighten"/>
<polygon points="795.7,678.8 815.9,660.9 838.3,643.0 860.8,640.7 867.5,654.2 860.8,676.6 847.3,694.5 833.9,712.5 811.4,708.0 798.0,694.5" fill="rgb(171,0,0)" style="mix-blend-mode:lighten"/>
<polygon points="896.6,647.4 930.3,643.0 950.0,645.2 950.0,658.7 919.1,658.7" fill="rgb(171,0,0)" style="mix-blend-mode:lighten"/>
<polygon points="864.8,733.8 898.5,731.6 923.1,724.8 954.5,731.6 936.6,742.8 909.7,745.0 876.1,745.0" fill="rgb(171,0,0)" style="mix-blend-mode:lighten"/>
<polygon points="855.9,805.6 880.5,805.6 885.0,823.5 864.8,823.5" fill="rgb(171,0,0)" style="mix-blend-mode:lighten"/>
<polygon points="862.0,290.0 898.0,284.0 901.0,314.0 864.0,314.0" fill="rgb(171,0,0)" style="mix-blend-mode:lighten"/>
<polygon points="1062.0,575.0 1090.0,572.0 1090.0,595.0 1062.0,595.0" fill="rgb(171,0,0)" style="mix-blend-mode:lighten"/>
<polygon points="828.7,323.1 855.6,318.7 880.3,318.7 900.0,320.9 900.0,336.6 878.0,336.6 860.1,332.1 842.2,338.8 830.9,336.6" fill="rgb(173,0,0)" style="mix-blend-mode:lighten"/>
<polygon points="757.0,399.4 779.4,397.1 795.1,406.1 792.8,420.0 757.0,420.0" fill="rgb(173,0,0)" style="mix-blend-mode:lighten"/>
<polygon points="900.0,285.0 913.5,305.2 933.6,318.7 958.3,325.4 976.2,327.6 976.2,334.3 944.8,331.0 922.4,323.1 904.5,309.7 900.0,305.2" fill="rgb(173,0,0)" style="mix-blend-mode:lighten"/>
<polygon points="994.2,269.3 1007.6,271.6 1005.4,280.5 996.4,280.5" fill="rgb(173,0,0)" style="mix-blend-mode:lighten"/>
<polygon points="757.0,402.2 792.8,402.2 795.1,415.7 770.4,422.4" fill="rgb(173,0,0)" style="mix-blend-mode:lighten"/>
<polygon points="842.2,561.4 880.3,554.7 900.0,557.0 900.0,590.6 857.8,592.8 842.2,579.4" fill="rgb(173,0,0)" style="mix-blend-mode:lighten"/>
<polygon points="1028.0,566.1 1050.4,557.1 1070.6,559.4 1081.8,580.0 1032.5,580.0" fill="rgb(173,0,0)" style="mix-blend-mode:lighten"/>
<polygon points="1150.0,485.2 1167.9,480.7 1194.8,494.2 1208.3,505.4 1194.8,525.6 1172.4,525.6 1150.0,516.6" fill="rgb(173,0,0)" style="mix-blend-mode:lighten"/>
<polygon points="1368.6,460.5 1374.2,467.3 1369.7,480.7 1361.9,489.7 1360.8,478.5" fill="rgb(173,0,0)" style="mix-blend-mode:lighten"/>
<polygon points="1235.2,588.3 1273.3,577.1 1318.2,568.2 1333.9,570.4 1307.0,581.6 1262.1,595.1" fill="rgb(173,0,0)" style="mix-blend-mode:lighten"/>
<polygon points="906.7,645.2 933.6,643.0 953.8,654.2 951.6,672.1 926.9,669.9 909.0,660.9" fill="rgb(173,0,0)" style="mix-blend-mode:lighten"/>
<polygon points="940.4,613.8 962.8,609.3 971.7,618.3 956.1,625.0" fill="rgb(173,0,0)" style="mix-blend-mode:lighten"/>
<polygon points="1230.0,593.8 1261.4,584.8 1295.1,573.6 1324.2,571.4 1319.7,578.1 1290.6,582.6 1257.0,591.6" fill="rgb(173,0,0)" style="mix-blend-mode:lighten"/>
<polygon points="847.3,560.0 892.2,560.0 896.6,573.5 874.2,586.9 851.8,586.9" fill="rgb(173,0,0)" style="mix-blend-mode:lighten"/>
<polygon points="833.9,730.4 863.0,728.2 896.6,728.2 930.3,723.7 950.0,730.4 930.3,739.4 874.2,739.4" fill="rgb(173,0,0)" style="mix-blend-mode:lighten"/>
<polygon points="1008.3,722.6 1026.3,724.8 1030.8,742.8 1017.3,747.3" fill="rgb(173,0,0)" style="mix-blend-mode:lighten"/>
<polygon points="1187.6,742.8 1210.0,731.6 1219.0,738.3 1214.5,754.0 1196.6,751.7" fill="rgb(173,0,0)" style="mix-blend-mode:lighten"/>
<polygon points="1216.8,819.0 1241.4,814.5 1245.9,828.0 1228.0,834.7" fill="rgb(173,0,0)" style="mix-blend-mode:lighten"/>
<polyline points="752.5,341.1 779.4,334.3 801.8,327.6" fill="none" stroke="rgb(199,0,0)" stroke-width="8.7" stroke-linejoin="round" stroke-linecap="round" style="mix-blend-mode:lighten"/>
<polyline points="900.0,291.7 913.5,309.7 933.6,322.0 956.1,327.6 974.0,331.0" fill="none" stroke="rgb(199,0,0)" stroke-width="8.2" stroke-linejoin="round" stroke-linecap="round" style="mix-blend-mode:lighten"/>
<polyline points="1025.6,365.7 1043.5,368.0 1061.4,359.0 1083.9,363.5" fill="none" stroke="rgb(199,0,0)" stroke-width="8.2" stroke-linejoin="round" stroke-linecap="round" style="mix-blend-mode:lighten"/>
<polyline points="989.7,374.7 1003.1,377.0" fill="none" stroke="rgb(199,0,0)" stroke-width="8.2" stroke-linejoin="round" stroke-linecap="round" style="mix-blend-mode:lighten"/>
<polyline points="1119.7,379.2 1146.6,381.4 1169.1,374.7 1180.3,372.5" fill="none" stroke="rgb(199,0,0)" stroke-width="8.2" stroke-linejoin="round" stroke-linecap="round" style="mix-blend-mode:lighten"/>
<polyline points="795.1,521.1 806.3,505.4 819.7,489.7 837.7,480.7 869.1,476.2" fill="none" stroke="rgb(199,0,0)" stroke-width="8.2" stroke-linejoin="round" stroke-linecap="round" style="mix-blend-mode:lighten"/>
<polyline points="1054.9,463.0 1072.8,471.9 1093.0,480.9" fill="none" stroke="rgb(199,0,0)" stroke-width="8.2" stroke-linejoin="round" stroke-linecap="round" style="mix-blend-mode:lighten"/>
<polyline points="947.3,469.7 980.9,474.2 1005.6,469.7" fill="none" stroke="rgb(199,0,0)" stroke-width="8.2" stroke-linejoin="round" stroke-linecap="round" style="mix-blend-mode:lighten"/>
<polyline points="1099.7,485.4 1126.6,487.6 1149.1,496.6" fill="none" stroke="rgb(199,0,0)" stroke-width="8.2" stroke-linejoin="round" stroke-linecap="round" style="mix-blend-mode:lighten"/>
<polyline points="1159.0,498.7 1183.6,505.4 1199.3,503.1" fill="none" stroke="rgb(199,0,0)" stroke-width="7.8" stroke-linejoin="round" stroke-linecap="round" style="mix-blend-mode:lighten"/>
<polyline points="1039.0,672.1 1068.2,676.6 1097.3,676.6 1124.2,678.8" fill="none" stroke="rgb(199,0,0)" stroke-width="8.2" stroke-linejoin="round" stroke-linecap="round" style="mix-blend-mode:lighten"/>
<polyline points="1234.5,593.8 1261.4,588.2 1290.6,579.2 1315.2,573.6" fill="none" stroke="rgb(199,0,0)" stroke-width="7.8" stroke-linejoin="round" stroke-linecap="round" style="mix-blend-mode:lighten"/>
</g>
</g>
<g fill="none" stroke="#000" stroke-width="3.8" stroke-linejoin="round" stroke-linecap="round">
<path d="M310.6,250.9 L330.0,254.0 L349.2,257.2 L351.7,235.6 L933.5,235.6 L933.5,225.8 L941.6,225.8 L944.3,241.9 L962.2,247.3 L974.8,244.6 L989.1,249.1 L996.3,252.7 L1012.5,258.0 L1025.0,255.4 L1039.4,258.0 L1053.7,261.6 L1033.8,268.7 L1015.9,279.5 L998.0,293.8 L994.3,297.4 L1010.5,293.8 L1024.8,292.0 L1023.0,299.2 L1037.4,297.4 L1051.7,292.0 L1069.7,283.0 L1080.4,277.7 L1089.4,276.8 L1076.9,286.6 L1075.1,292.0 L1087.6,292.0 L1096.6,299.2 L1110.9,302.8 L1127.1,297.4 L1148.6,293.8 L1150.4,301.0 L1163.0,302.8 L1170.1,315.3 L1159.4,315.3 L1148.6,315.3 L1136.1,313.5 L1123.5,315.3 L1114.5,318.9 L1105.6,318.9 L1096.6,333.3 L1084.0,353.0 L1091.2,336.9 L1105.6,333.3 L1094.8,347.6 L1091.2,365.6 L1088.2,375.9 L1088.2,408.2 L1093.5,420.7 L1098.9,427.9 L1113.3,422.5 L1122.2,404.6 L1120.4,386.6 L1115.1,368.7 L1120.4,350.8 L1123.5,347.6 L1137.8,340.4 L1145.0,329.7 L1136.1,318.9 L1134.3,315.3 L1150.4,315.3 L1155.8,320.7 L1170.1,327.9 L1182.7,336.9 L1183.0,353.3 L1170.7,370.5 L1174.3,377.7 L1188.6,366.9 L1197.6,375.9 L1200.3,393.8 L1192.2,406.4 L1181.4,424.3 L1190.4,433.3 L1203.0,435.1 L1217.3,431.5 L1235.2,420.7 L1258.4,412.5 L1272.7,401.7 L1272.7,387.4 L1283.5,383.8 L1301.4,385.6 L1319.4,383.8 L1330.1,378.4 L1331.4,364.0 L1341.3,351.5 L1359.2,340.7 L1432.7,340.7 L1432.7,333.5 L1443.5,330.9 L1448.9,328.2 L1457.8,310.2 L1465.0,294.1 L1479.4,276.1 L1483.0,277.9 L1486.5,281.5 L1499.1,277.9 L1510.8,286.9 L1510.8,321.0 L1517.0,326.4 L1518.8,335.3 L1526.0,342.5 L1526.9,346.1 L1515.2,351.5 L1488.3,355.1 L1479.4,364.0 L1461.4,373.0 L1450.7,385.6 L1447.1,396.3 L1441.6,410.3 L1446.7,415.3 L1451.7,422.4 L1452.7,427.4 L1460.8,425.4 L1465.5,424.0 L1465.0,418.0 L1460.0,416.0 L1462.5,419.5 L1462.5,424.5 L1455.0,430.5 L1446.7,432.5 L1440.6,432.5 L1434.6,434.5 L1426.5,438.5 L1400.3,438.5 L1388.9,444.6 L1424.8,444.6 L1397.8,455.3 L1383.5,453.5 L1381.7,451.7 L1376.3,455.3 L1378.1,458.9 L1379.9,469.7 L1374.5,484.0 L1365.6,494.8 L1358.4,502.0 L1354.8,496.6 L1347.6,487.6 L1345.8,478.7 L1350.0,488.0 L1356.6,500.0 L1359.9,504.4 L1357.2,516.5 L1353.2,530.0 L1345.1,539.4 L1338.4,548.8 L1339.7,556.9 L1342.4,567.6 L1345.7,576.1 L1349.1,587.3 L1348.0,596.2 L1334.5,603.0 L1327.8,609.7 L1316.6,611.9 L1303.1,620.9 L1296.4,632.1 L1285.2,633.2 L1276.2,641.1 L1269.5,652.3 L1258.3,661.3 L1242.6,672.5 L1231.4,685.9 L1224.7,703.9 L1222.4,720.0 L1225.7,742.8 L1237.0,774.2 L1245.9,801.1 L1252.6,819.0 L1251.5,845.9 L1245.9,857.1 L1237.0,862.7 L1230.2,861.6 L1223.5,845.9 L1214.5,836.9 L1207.8,819.0 L1201.1,810.0 L1197.7,794.3 L1194.3,787.6 L1196.6,769.7 L1189.9,758.5 L1176.4,742.8 L1165.2,733.8 L1154.0,740.5 L1138.3,743.9 L1129.3,728.2 L1113.6,723.7 L1093.5,724.8 L1080.0,728.2 L1062.2,729.3 L1057.7,736.1 L1053.2,749.5 L1062.2,757.4 L1055.4,763.0 L1039.7,756.2 L1026.3,760.7 L1012.8,749.5 L999.4,741.7 L990.4,747.3 L972.5,741.7 L954.5,743.9 L936.6,751.7 L914.2,769.7 L898.5,776.4 L887.3,787.6 L880.5,803.3 L885.0,814.5 L891.7,840.3 L887.3,843.7 L864.8,839.2 L849.1,830.2 L842.4,805.6 L831.2,785.4 L820.0,767.4 L814.9,758.8 L799.2,743.1 L779.0,740.9 L772.3,749.9 L763.3,763.3 L747.6,756.6 L734.2,743.1 L729.7,725.2 L714.0,709.5 L698.3,693.8 L692.7,687.1 L658.3,689.3 L658.3,701.2 L597.8,701.6 L518.9,668.4 L522.5,664.0 L469.6,669.3 L466.9,655.9 L456.1,643.3 L445.4,637.0 L440.0,629.0 L422.2,622.0 L398.9,616.6 L397.1,604.0 L391.7,593.3 L379.2,577.1 L370.2,566.4 L370.2,552.0 L358.6,541.3 L346.9,523.3 L343.8,514.3 L331.3,499.9 L330.4,485.6 L325.9,474.8 L316.9,460.4 L321.4,444.3 L323.2,431.7 L319.6,421.0 L318.7,412.0 L314.2,397.7 L319.6,381.5 L323.2,374.6 L323.2,360.0 L325.0,322.6 L326.8,308.3 L325.9,299.3 L323.2,285.0 L316.9,267.0Z"/>
<polyline points="326.8,308.3 349.2,315.4 360.0,324.4 379.7,322.6 401.2,321.7 426.3,314.6 474.8,314.6"/>
<polyline points="472.3,235.6 472.3,303.6 473.5,314.2"/>
<polyline points="473.5,314.2 483.5,323.1 475.7,341.1 469.0,356.8 473.5,363.5 472.5,420.0"/>
<polyline points="321.2,420.0 598.5,420.0"/>
<polyline points="409.9,420.0 409.9,499.1 522.7,602.2"/>
<polyline points="493.6,235.7 493.6,260.4 500.4,271.6 513.8,285.0 527.3,296.2 525.0,323.1 538.5,323.1 549.7,345.6 558.7,354.5 572.1,352.3 590.0,350.0 596.8,352.3 598.5,354.2"/>
<polyline points="598.5,354.2 598.5,446.4 788.1,446.4"/>
<polyline points="535.3,420.0 535.3,572.9 522.7,577.1 522.7,602.2"/>
<polyline points="522.7,602.2 534.3,623.8 533.3,622.7 526.1,632.6 520.7,646.9 527.9,657.7 522.5,664.0"/>
<polyline points="598.5,341.0 746.0,341.0"/>
<polyline points="746.0,235.6 746.0,446.4"/>
<polyline points="746.0,316.2 901.4,315.7"/>
<polyline points="535.3,551.8 768.1,551.8"/>
<polyline points="640.6,446.4 640.6,701.2"/>
<polyline points="788.1,446.4 788.1,551.8"/>
<polyline points="788.1,472.8 928.3,472.6"/>
<polyline points="768.1,551.8 944.7,551.8"/>
<polyline points="768.1,551.8 768.1,565.0 766.8,683.5 691.8,683.5"/>
<polyline points="768.1,565.0 831.3,565.0 831.7,616.2"/>
<polyline points="831.7,616.2 845.2,619.6 849.7,625.2 865.4,626.3 878.8,634.2 894.5,631.9 908.0,638.7 930.4,631.9 946.1,640.9 957.3,642.0"/>
<polyline points="944.8,495.9 944.7,551.8 944.7,565.0 946.1,640.9"/>
<polyline points="901.4,403.1 905.9,407.6 912.6,427.8 919.4,448.0 921.6,459.2 928.3,470.4 937.3,477.1 935.9,486.9 944.8,495.9"/>
<polyline points="957.3,642.0 956.9,656.7 956.9,683.5 966.3,697.0 968.5,710.4 963.5,724.8 960.1,741.7"/>
<polyline points="956.9,656.7 1017.8,656.6"/>
<polyline points="1051.5,562.4 1047.0,584.8 1038.0,600.5 1029.1,614.0 1020.1,629.7 1015.6,645.4 1017.8,656.6 1020.1,674.5 1008.9,697.0 1008.9,710.4 1047.0,710.4 1049.2,728.3 1050.9,736.1"/>
<polyline points="944.7,565.0 1039.0,565.0 1034.5,576.6 1045.7,576.6 1048.0,576.6 1054.7,563.1"/>
<polyline points="1009.9,460.0 1012.1,473.5 1027.8,493.6 1027.8,500.4 1036.8,504.8 1034.5,518.3 1048.0,531.7 1054.7,540.7 1054.7,547.4 1059.2,554.2 1054.7,563.1 1048.0,576.6"/>
<polyline points="921.6,457.5 1011.3,457.5 1009.1,470.4 1012.1,473.5"/>
<polyline points="992.7,295.7 992.7,311.9 982.2,320.2 982.2,347.1 1004.6,362.8 1015.8,379.6 1018.0,394.2 1027.0,405.4 1036.1,415.3 1036.1,429.7 1020.3,434.5 1018.0,452.5 1011.3,457.5 1009.9,460.0"/>
<polyline points="905.9,379.6 1015.8,379.6"/>
<polyline points="890.5,235.6 892.3,250.9 895.9,268.8 899.5,286.7 903.0,311.9 899.2,322.4 905.9,331.4 905.9,379.6 903.7,389.7 901.4,403.1"/>
<polyline points="746.0,393.7 862.2,393.7 874.5,399.8 885.7,397.5 901.4,403.1"/>
<polyline points="1018.0,406.9 1088.2,406.9"/>
<polyline points="1023.0,299.2 1039.2,304.6 1060.7,311.7 1080.4,317.1 1087.6,327.9 1091.2,336.9"/>
<polyline points="1094.0,423.0 1092.8,500.4 1086.1,518.3 1081.6,529.5"/>
<polyline points="1059.2,554.2 1063.7,545.2 1074.9,549.7 1079.4,538.5 1083.9,527.3 1101.8,527.3 1119.7,522.8 1133.2,516.1 1139.9,507.1 1151.1,500.4 1157.8,495.9 1175.9,506.4 1192.0,506.4 1199.2,513.5 1206.4,504.6 1211.7,497.4 1222.5,488.4 1235.1,475.9 1238.7,456.1 1241.7,440.0"/>
<polyline points="1098.9,426.3 1181.4,426.3"/>
<polyline points="1151.1,426.3 1151.1,498.0"/>
<polyline points="1241.7,419.7 1241.7,480.1"/>
<polyline points="1241.7,480.1 1343.8,480.1"/>
<polyline points="1258.0,419.7 1351.2,419.7 1358.4,428.4 1362.0,435.6 1362.0,439.2 1354.8,451.7 1356.6,457.1 1365.6,467.9 1358.4,473.3 1345.8,478.7 1347.6,487.6"/>
<polyline points="1241.7,419.7 1258.0,419.7 1258.0,413.0"/>
<polyline points="1362.0,435.6 1381.7,447.3"/>
<polyline points="1343.8,480.1 1343.8,512.7 1356.6,512.7"/>
<polyline points="1263.0,480.1 1263.0,493.6 1273.8,486.9 1287.3,485.6 1298.0,491.0 1300.7,493.6 1314.2,500.4 1310.1,513.8 1316.9,516.5 1327.6,524.6 1331.7,540.7"/>
<polyline points="1199.2,513.5 1199.2,524.3 1208.2,536.9 1217.1,545.8 1224.3,544.0 1244.0,536.9 1247.6,527.9 1258.4,513.5 1269.1,501.0 1283.5,493.8 1287.3,485.6"/>
<polyline points="1208.2,538.7 1193.8,551.2 1175.9,560.2"/>
<polyline points="1061.4,562.4 1083.9,562.4 1083.9,560.5 1175.9,560.5 1217.8,562.9 1342.4,563.6"/>
<polyline points="1217.8,563.6 1212.5,570.8 1198.1,576.1 1185.6,586.9 1171.2,592.3 1162.2,599.5 1162.2,604.0"/>
<polyline points="1038.0,604.5 1182.0,604.5"/>
<polyline points="1081.5,604.5 1076.1,720.0 1075.6,726.0"/>
<polyline points="1133.5,604.5 1147.9,676.6 1144.3,698.1 1147.9,717.8 1207.8,721.5 1210.0,715.9 1221.3,715.9"/>
<polyline points="1091.3,709.0 1146.1,709.0"/>
<polyline points="1091.3,709.0 1093.5,724.8"/>
<polyline points="1182.0,612.0 1189.1,617.4 1196.3,628.2 1210.7,644.3 1221.4,660.4 1226.8,673.0 1230.4,682.0 1233.6,681.4"/>
<polyline points="1162.2,604.0 1185.6,606.6 1182.0,612.0"/>
<polyline points="1185.6,606.6 1203.5,598.6 1230.4,600.4 1237.6,608.4 1259.1,609.3 1282.4,633.5"/>
<polyline points="1392.5,340.7 1391.5,376.6 1395.1,398.1 1392.5,401.5 1388.9,444.6"/>
<polyline points="1395.1,399.9 1439.9,399.9"/>
<polyline points="1392.5,418.6 1428.3,418.6 1427.4,437.4"/>
<polyline points="1432.7,340.7 1429.1,349.7 1422.0,358.7 1414.8,376.6 1409.4,399.9"/>
<polyline points="1441.7,331.7 1443.5,385.6 1447.1,396.3"/>
</g>
<g fill="#000" stroke="#000" stroke-width="3" stroke-linejoin="round">
<polygon points="351.0,236.0 354.0,240.0 360.0,247.0 358.0,255.0 362.0,261.0 365.0,268.0 363.0,275.0 362.0,283.0 357.0,289.0 349.0,288.0 344.0,282.0 345.0,273.0 349.0,265.0 352.0,258.0 344.0,252.0 343.0,245.0 349.0,241.0"/>
<polygon points="355.0,521.0 362.0,519.0 366.0,526.0 369.0,539.0 364.0,542.0 358.0,535.0 356.0,528.0"/>
<polygon points="1381.0,452.0 1400.0,446.0 1425.0,441.0 1423.0,446.0 1402.0,455.0 1386.0,457.0"/>
<polygon points="1445.0,434.0 1454.0,433.0 1455.0,438.0 1446.0,439.0"/>
<polygon points="1458.0,436.0 1465.0,435.0 1466.0,440.0 1459.0,441.0"/>
<polygon points="1456.0,417.0 1463.0,416.0 1466.0,421.0 1464.0,426.0 1460.0,424.0"/>
</g>
<g fill="none" stroke="#000" stroke-width="4" stroke-linejoin="round" stroke-linecap="round">
<polyline points="1337.0,484.2 1324.9,492.3 1326.3,504.4 1322.2,512.5 1326.3,516.5 1319.6,524.6 1327.6,530.0 1322.2,536.7 1330.3,540.7 1319.6,544.8 1330.3,551.5 1337.0,554.2"/>
<polyline points="1338.4,486.9 1334.4,495.0 1335.7,511.1 1341.1,519.2 1338.4,530.0 1335.7,540.7 1337.0,547.4 1345.0,530.0 1352.0,516.0"/>
<polyline points="1314.0,516.0 1326.0,524.0"/>
<polyline points="1316.0,525.0 1327.0,533.0"/>
<polyline points="1319.0,537.0 1328.0,543.0"/>
<polyline points="1316.0,545.0 1329.0,552.0"/>
<polyline points="1345.0,482.0 1352.0,495.0 1358.0,503.0"/>
<polyline points="1322.0,567.0 1336.0,572.0 1330.0,578.0 1342.0,582.0"/>
<polyline points="1316.0,590.0 1332.0,588.0 1322.0,597.0 1334.0,600.0"/>
<polyline points="1312.0,606.0 1326.0,604.0 1334.0,611.0"/>
<polyline points="1192.0,790.0 1199.0,792.0 1198.0,799.0 1194.0,797.0"/>
<polyline points="1203.0,814.0 1210.0,818.0 1207.0,822.0"/>
<polyline points="1034.0,728.0 1044.0,724.0 1053.0,730.0 1044.0,737.0 1034.0,733.0 1034.0,728.0"/>
<polyline points="1044.0,745.0 1052.0,750.0 1058.0,756.0 1061.0,747.0"/>
<polyline points="880.0,806.0 884.0,797.0 889.0,788.0"/>
<polyline points="898.0,778.0 905.0,772.0 912.0,771.0"/>
<polyline points="920.0,766.0 930.0,758.0 938.0,752.0"/>
<polyline points="1434.6,418.3 1436.0,428.0 1440.0,432.0"/>
</g>
<rect x="1191" y="875.5" width="4" height="3" fill="#f0a400"/>
<rect x="1198" y="874.5" width="4" height="3" fill="#e3eb1b"/>
<rect x="1206" y="872.5" width="4" height="3" fill="#de3d00"/>
<rect x="1213" y="870.5" width="4" height="3" fill="#f0a400"/>
<rect x="1220" y="867.5" width="4" height="3" fill="#e3eb1b"/>
<rect x="1227" y="864.5" width="4" height="3" fill="#f0a400"/>
<rect x="1234" y="860.5" width="4" height="3" fill="#4a8c9b"/>
<rect x="1240" y="856.5" width="4" height="3" fill="#e3eb1b"/>
<rect x="1244" y="853.5" width="4" height="3" fill="#1b70cd"/>
<rect x="438" y="642.5" width="4" height="3" fill="#1b70cd"/>
<rect x="430" y="635.5" width="4" height="3" fill="#f0a400"/>
<rect x="412" y="638.5" width="4" height="3" fill="#1b70cd"/>
<rect x="404" y="628.5" width="4" height="3" fill="#e3eb1b"/>
<rect x="418" y="626.5" width="4" height="3" fill="#1b70cd"/>
<rect x="434" y="654.5" width="4" height="3" fill="#e87200"/>
<rect x="1058" y="260.5" width="4" height="3" fill="#4a8c9b"/>
<rect x="1158" y="315.5" width="4" height="3" fill="#1b70cd"/>
<rect x="1428" y="439.5" width="4" height="3" fill="#f0a400"/>
<rect x="1444" y="438.5" width="4" height="3" fill="#f0a400"/>

<rect x="1571" y="430.10" width="25" height="25.6" fill="#4d4d4d"/>
<rect x="1571" y="455.55" width="25" height="25.6" fill="#1b70cd"/>
<rect x="1571" y="481.00" width="25" height="25.6" fill="#4a8c9b"/>
<rect x="1571" y="506.45" width="25" height="25.6" fill="#79ab70"/>
<rect x="1571" y="531.90" width="25" height="25.6" fill="#b2cd3c"/>
<rect x="1571" y="557.35" width="25" height="25.6" fill="#e3eb1b"/>
<rect x="1571" y="582.80" width="25" height="25.6" fill="#f6dd00"/>
<rect x="1571" y="608.25" width="25" height="25.6" fill="#efa600"/>
<rect x="1571" y="633.70" width="25" height="25.6" fill="#e87200"/>
<rect x="1571" y="659.15" width="25" height="25.6" fill="#de3d00"/>
<rect x="1571" y="684.60" width="25" height="25.6" fill="#d00000"/>
</svg>
<div class="t tt" style="top:29px">Silver Y moth: Adult relative pop. size w/ climate stress</div>
<div class="t tt" style="top:68.5px">exclusion 09/27/2026</div>
<div class="t st" style="top:125.5px">Maps and modeling 01/12/2026 by Oregon State University IPPC USPEST.ORG and</div>
<div class="t st" style="top:158.5px">USDA-APHIS-PPQ; climate data from OSU PRISM Climate Group</div>
<div class="t" style="left:1571px;top:394.5px;font-size:26px;font-weight:bold">Relative pop. size</div>
<div class="lab" style="top:431.1px">excl.-severe</div>
<div class="lab" style="top:456.6px">0-10</div>
<div class="lab" style="top:482.0px">10-20</div>
<div class="lab" style="top:507.5px">20-30</div>
<div class="lab" style="top:532.9px">30-40</div>
<div class="lab" style="top:558.4px">40-50</div>
<div class="lab" style="top:583.8px">50-60</div>
<div class="lab" style="top:609.2px">60-70</div>
<div class="lab" style="top:634.7px">70-80</div>
<div class="lab" style="top:660.1px">80-90</div>
<div class="lab" style="top:685.6px">90-100</div>
</body></html>
